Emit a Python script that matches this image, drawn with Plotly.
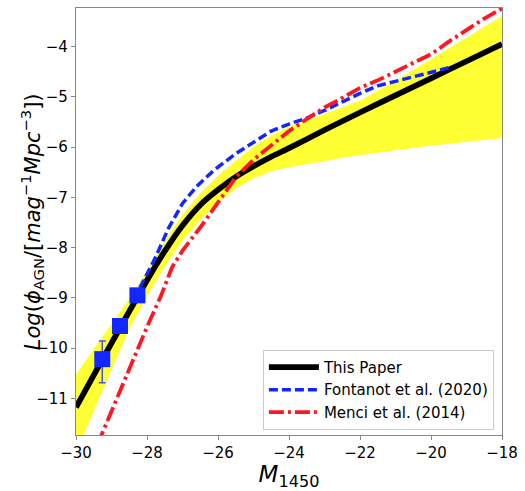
import plotly.graph_objects as go

# ---- data ----
M_fit = [-30, -29.5, -29, -28.5, -28, -27.5, -27, -26.5, -26, -25.5, -25, -24.5, -24,
         -23, -22, -21, -20, -19, -18]
phi_fit = [-11.18, -10.54, -9.90, -9.27, -8.65, -8.07, -7.56, -7.15, -6.85, -6.59, -6.38,
           -6.19, -6.02, -5.66, -5.31, -4.97, -4.63, -4.29, -3.95]

M_band = [-30, -29.5, -29, -28.5, -28, -27.5, -27, -26.5, -26, -25.5, -25, -24.5, -24,
          -23.5, -23, -22.5, -22, -21, -20, -19, -18]
band_upper = [-10.52, -10.02, -9.52, -9.02, -8.46, -7.87, -7.34, -6.92, -6.57, -6.27, -5.99,
              -5.77, -5.60, -5.46, -5.34, -5.21, -5.07, -4.68, -4.25, -3.81, -3.39]
band_lower = [-12.10, -11.25, -10.42, -9.62, -8.97, -8.38, -7.86, -7.45, -7.11, -6.83, -6.62,
              -6.48, -6.40, -6.34, -6.28, -6.21, -6.15, -6.06, -5.97, -5.89, -5.82]

M_fontanot = [-28.2, -27.75, -27.4, -27.0, -26.6, -26.1, -25.5, -25.0, -24.5, -24.0, -23.5,
              -23.0, -22.5, -22.0, -21.5, -21.0, -20.5, -20.0, -19.5]
phi_fontanot = [-8.80, -8.18, -7.62, -7.12, -6.78, -6.45, -6.13, -5.90, -5.68, -5.54, -5.42,
                -5.27, -5.10, -4.93, -4.78, -4.69, -4.60, -4.50, -4.42]

M_menci = [-29.4, -29.0, -28.5, -28.0, -27.6, -27.3, -27.0, -26.5, -26.0, -25.5, -25.0, -24.5,
           -24.0, -23.5, -23.0, -22.5, -22.0, -21.5, -21.0, -20.5, -20.0, -19.5, -19.0,
           -18.5, -18.0]
phi_menci = [-11.93, -11.25, -10.42, -9.58, -8.95, -8.40, -8.06, -7.60, -7.10, -6.60, -6.25,
             -5.97, -5.68, -5.44, -5.21, -5.02, -4.82, -4.67, -4.50, -4.33, -4.15, -3.90,
             -3.66, -3.44, -3.24]

M_obs = [-29.26, -28.76, -28.27]
phi_obs = [-10.22, -9.56, -8.95]
err_up = [0.36, 0.0, 0.0]
err_down = [0.47, 0.0, 0.0]

x_ticks = [-30, -28, -26, -24, -22, -20, -18]
x_ticklabels = ["−30", "−28", "−26", "−24", "−22", "−20", "−18"]
y_ticks = [-11, -10, -9, -8, -7, -6, -5, -4]
y_ticklabels = ["−11", "−10", "−9", "−8", "−7", "−6", "−5", "−4"]

FONT = "DejaVu Sans"
BLUE = "rgb(18,38,255)"
RED = "rgb(255,22,34)"

fig = go.Figure()

# uncertainty band
fig.add_trace(go.Scatter(
    x=M_band + M_band[::-1], y=band_upper + band_lower[::-1],
    fill="toself", fillcolor="rgb(255,255,51)", line=dict(width=0),
    mode="lines", showlegend=False, hoverinfo="skip"))

fig.add_trace(go.Scatter(
    x=M_fit, y=phi_fit, mode="lines", name="This Paper",
    line=dict(color="black", width=5.7, shape="spline", smoothing=0.6)))

fig.add_trace(go.Scatter(
    x=M_fontanot, y=phi_fontanot, mode="lines", name="Fontanot et al. (2020)",
    line=dict(color=BLUE, width=3.5, dash="9px,4px")))

fig.add_trace(go.Scatter(
    x=M_menci, y=phi_menci, mode="lines", name="Menci et al. (2014)",
    line=dict(color=RED, width=3.8, dash="15px,4px,3px,4px")))

fig.add_trace(go.Scatter(
    x=M_obs, y=phi_obs, mode="markers", showlegend=False,
    marker=dict(symbol="square", size=16, color=BLUE),
    error_y=dict(type="data", symmetric=False, array=err_up, arrayminus=err_down,
                 color="rgb(70,85,220)", thickness=1.5, width=3.5)))

axis_common = dict(
    showline=True, mirror=True, linecolor="#888888", linewidth=1.2,
    ticks="outside", ticklen=4, tickwidth=1, tickcolor="#888888",
    showgrid=False, zeroline=False,
    tickfont=dict(family=FONT, size=15, color="black"),
)

fig.update_xaxes(
    range=[-30, -18], tickvals=x_ticks, ticktext=x_ticklabels,
    title=dict(text="<i>M</i><sub>1450</sub>", font=dict(family=FONT, size=23, color="black"),
               standoff=6),
    **axis_common)
fig.update_yaxes(
    range=[-11.73, -3.23], tickvals=y_ticks, ticktext=y_ticklabels,
    **axis_common)

fig.add_annotation(
    text="<i>Log</i>(<i>ϕ</i><sub>AGN</sub>/[<i>mag</i><sup>−1</sup><i>Mpc</i><sup>−3</sup>])",
    xref="paper", yref="paper", x=-0.104, y=0.5, xanchor="center", yanchor="middle",
    textangle=-90, showarrow=False, font=dict(family=FONT, size=21, color="black"))

fig.update_layout(
    width=525, height=491,
    margin=dict(l=76, r=19, t=7, b=55),
    paper_bgcolor="white", plot_bgcolor="white",
    font=dict(family=FONT, color="black"),
    legend=dict(
        x=0.981, y=0.012, xanchor="right", yanchor="bottom",
        bgcolor="rgba(255,255,255,0.85)", bordercolor="#cccccc", borderwidth=1,
        font=dict(family=FONT, size=15, color="black"),
        itemwidth=50, traceorder="normal"),
)

fig.write_html("out.html", config={"displayModeBar": False},
               post_script="document.body.style.margin='0';document.body.style.overflow='hidden';")
